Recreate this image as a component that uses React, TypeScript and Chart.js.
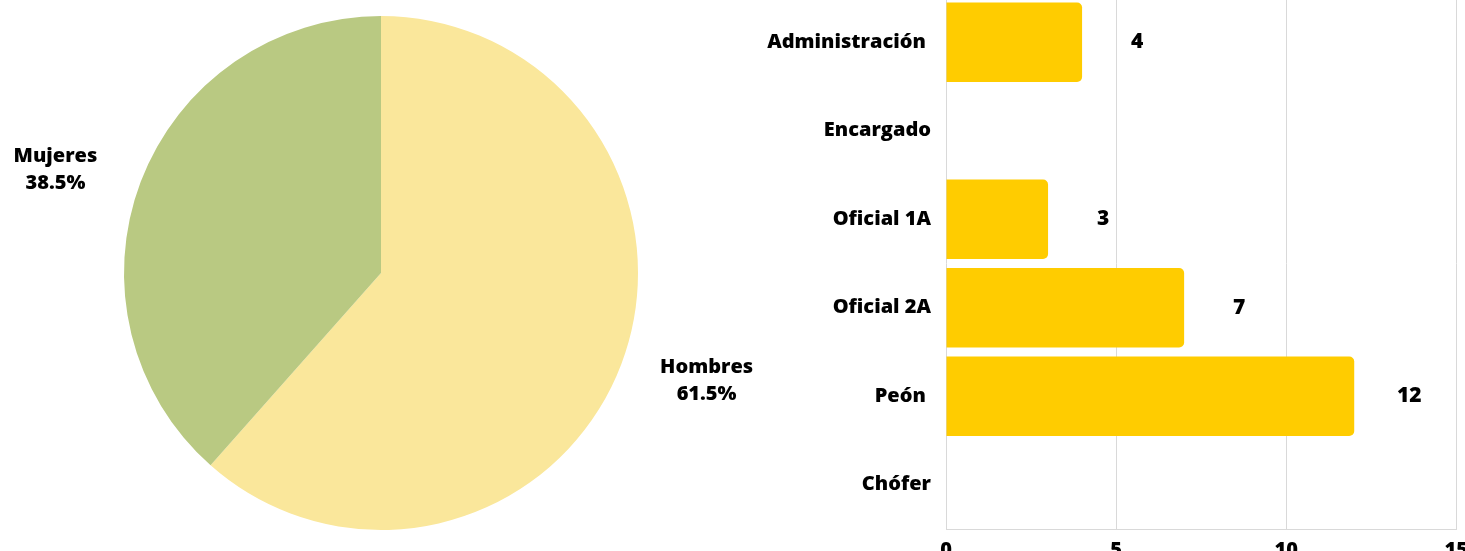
import React, { useEffect, useRef } from "react";
import { Chart, registerables } from "chart.js";

Chart.register(...registerables);

const genderLabels = ["Hombres", "Mujeres"];
const genderValues = [8, 5];
const genderPercents = ["61.5%", "38.5%"];
const genderColors = ["#FAE79B", "#B9C982"];

const roleLabels = ["Administración ", "Encargado", "Oficial 1A", "Oficial 2A", "Peón ", "Chófer"];
const roleValues = [4, 0, 3, 7, 12, 0];
const xTicks = [0, 5, 10, 15];

const FONT = "'Open Sans', 'Noto Sans', sans-serif";
const FSIZE = 20;
const FWEIGHT = "800";

const pieLabelPlugin = {
  id: "pieLabels",
  afterDraw(chart: any) {
    const ctx = chart.ctx;
    const meta = chart.getDatasetMeta(0);
    ctx.save();
    ctx.fillStyle = "#000";
    ctx.font = `${FWEIGHT} ${FSIZE}px ${FONT}`;
    ctx.textAlign = "center";
    ctx.textBaseline = "middle";
    meta.data.forEach((arc: any, i: number) => {
      const mid = (arc.startAngle + arc.endAngle) / 2;
      const r = arc.outerRadius;
      const x = arc.x + Math.cos(mid) * r * 1.355;
      const y = arc.y + Math.sin(mid) * r * 1.16;
      ctx.fillText(genderLabels[i], x, y - 11);
      ctx.fillText(genderPercents[i], x, y + 16);
    });
    ctx.restore();
  },
};

const barValuePlugin = {
  id: "barValues",
  afterDatasetsDraw(chart: any) {
    const ctx = chart.ctx;
    const meta = chart.getDatasetMeta(0);
    ctx.save();
    ctx.fillStyle = "#000";
    ctx.font = `${FWEIGHT} ${FSIZE + 1}px ${FONT}`;
    ctx.textAlign = "center";
    ctx.textBaseline = "middle";
    meta.data.forEach((bar: any, i: number) => {
      const v = roleValues[i];
      if (!v) return;
      ctx.fillText(String(v), bar.x + 55, bar.y);
    });
    ctx.restore();
  },
};

export default function App() {
  const pieRef = useRef<HTMLCanvasElement>(null);
  const barRef = useRef<HTMLCanvasElement>(null);

  useEffect(() => {
    const pie = new Chart(pieRef.current!, {
      type: "pie",
      data: {
        labels: genderLabels,
        datasets: [
          {
            data: genderValues,
            backgroundColor: genderColors,
            borderWidth: 0,
          },
        ],
      },
      options: {
        animation: false,
        responsive: false,
        layout: { padding: { left: 124, right: 122, top: 16, bottom: 21 } },
        plugins: { legend: { display: false }, tooltip: { enabled: false } },
      },
      plugins: [pieLabelPlugin],
    });

    const bar = new Chart(barRef.current!, {
      type: "bar",
      data: {
        labels: roleLabels,
        datasets: [
          {
            data: roleValues,
            backgroundColor: "#FFCC00",
            borderWidth: 0,
            borderRadius: 5,
            borderSkipped: "start",
            barPercentage: 0.9,
            categoryPercentage: 1,
          },
        ],
      },
      options: {
        indexAxis: "y",
        animation: false,
        responsive: false,
        layout: { padding: 0 },
        plugins: { legend: { display: false }, tooltip: { enabled: false } },
        scales: {
          x: {
            min: 0,
            max: 15,
            afterBuildTicks: (scale: any) => {
              scale.ticks = xTicks.map((v) => ({ value: v }));
            },
            grid: { color: "#D9D9D9", drawTicks: false, lineWidth: 1 },
            border: { color: "#D9D9D9" },
            ticks: {
              padding: 9,
              color: "#000",
              font: { family: FONT, size: FSIZE, weight: FWEIGHT },
              maxRotation: 0,
            },
          },
          y: {
            grid: { display: false, drawTicks: false },
            border: { display: false },
            afterFit: (scale: any) => {
              scale.width = 206;
            },
            ticks: {
              padding: 15,
              color: "#000",
              font: { family: FONT, size: FSIZE, weight: FWEIGHT },
            },
          },
        },
      },
      plugins: [barValuePlugin],
    });

    return () => {
      pie.destroy();
      bar.destroy();
    };
  }, []);

  return (
    <div
      style={{
        position: "fixed",
        left: 0,
        top: 0,
        width: 1465,
        height: 551,
        overflow: "hidden",
        background: "#fff",
      }}
    >
      <canvas
        ref={pieRef}
        width={760}
        height={551}
        style={{ position: "absolute", left: 0, top: 0, width: 760, height: 551 }}
      />
      <canvas
        ref={barRef}
        width={737}
        height={600}
        style={{ position: "absolute", left: 740, top: -29, width: 737, height: 600 }}
      />
    </div>
  );
}
